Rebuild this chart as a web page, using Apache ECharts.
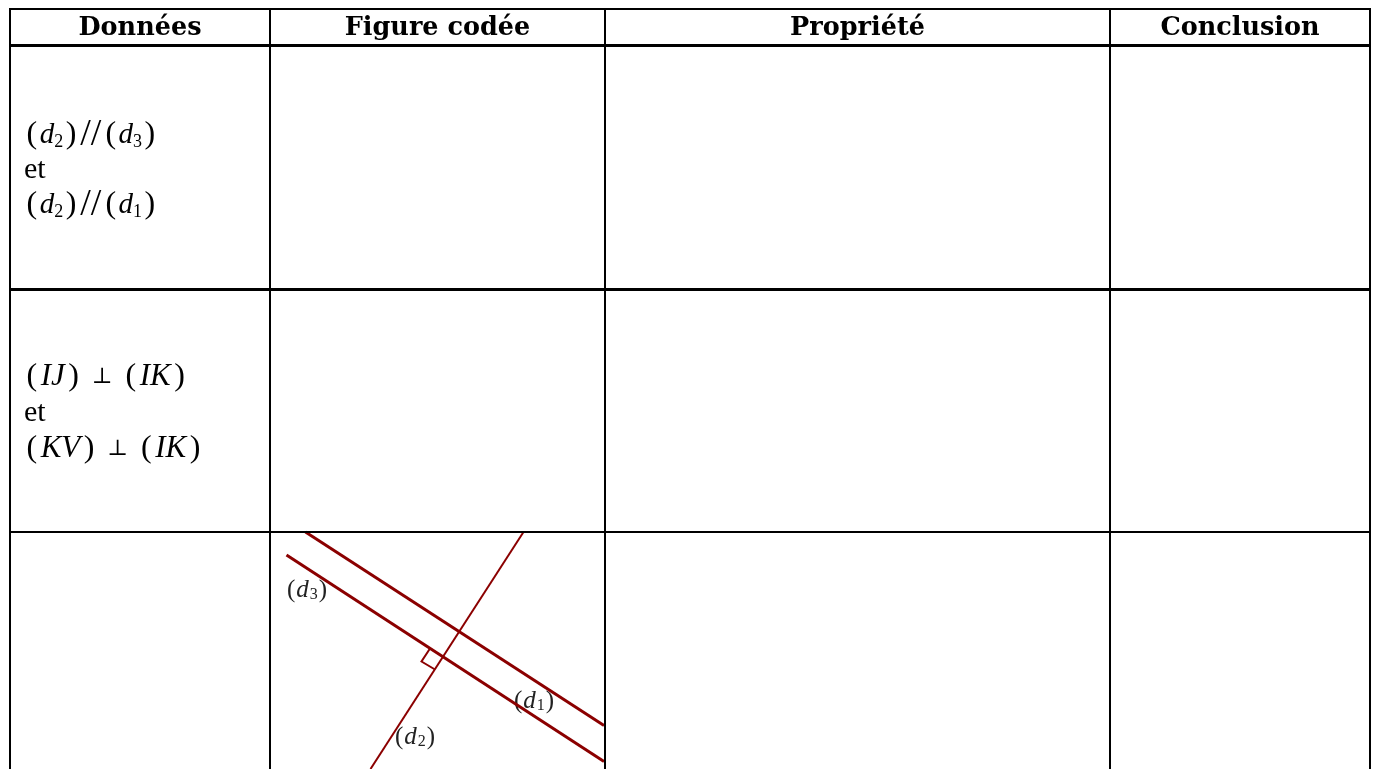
<!doctype html>
<html>

<head>
  <meta charset="utf-8">
  <title>index</title>
  <script type="text/javascript" src="https://cdn.jsdelivr.net/npm/echarts@6/dist/echarts.min.js"></script>
  <style>
    html, body { margin: 0; padding: 0; background: #fff; }
    #main { width: 1375px; height: 769px; }
  </style>
</head>

<body>
  <div id="main"></div>
  <script>
    // table structure, in page units
    var columnEdges = [10, 270, 605, 1110, 1370]
    var rowEdges = [9, 45.5, 289.5, 532, 769]
    var headers = ['Données', 'Figure codée', 'Propriété', 'Conclusion']

    // cell text, {i|} italic, {c|} capitals, {s|} subscript, {p|} perpendicular sign, {o|} parenthesis, {w|} slash
    var row1Text = ['{o|(}{i|d}{s|2}{o|)}{w|//}{o|(}{i|d}{s|3}{o|)}', '{t|et}', '{o|(}{i|d}{s|2}{o|)}{w|//}{o|(}{i|d}{s|1}{o|)}']
    var row2Text = ['{o|(}{c|IJ}{o|)}{p|⊥}{o|(}{c|IK}{o|)}', '{t|et}', '{o|(}{c|KV}{o|)}{p|⊥}{o|(}{c|IK}{o|)}']
    var row1TextY = [135, 170, 205]
    var row2TextY = [377, 413, 449]
    var textX = 24

    // coded figure
    var lineD1 = [[305.5, 532], [604, 725.5]]
    var lineD3 = [[286.5, 555], [604, 761.5]]
    var lineD2 = [[523.5, 532], [370.5, 769]]
    var rightAngle = [[430, 648.5], [421.5, 661.5], [435, 669.5]]
    var figureLabels = ['{o|(}{i|d}{s|3}{o|)}', '{o|(}{i|d}{s|1}{o|)}', '{o|(}{i|d}{s|2}{o|)}']
    var figureLabelPos = [[307, 590], [534, 701], [415, 737]]

    var rich = {
      t: { fontFamily: 'Liberation Serif', fontSize: 30, color: '#000' },
      o: { fontFamily: 'Liberation Serif', fontSize: 32, color: '#000', padding: [0, 2.5, 0, 2.5] },
      w: { fontFamily: 'Liberation Serif', fontSize: 38, color: '#000', padding: [0, 1.5, 0, 1.5] },
      i: { fontFamily: 'Liberation Serif', fontStyle: 'italic', fontSize: 29, color: '#000' },
      c: { fontFamily: 'Liberation Serif', fontStyle: 'italic', fontSize: 31, color: '#000', padding: [0, 1, 0, 1] },
      s: { fontFamily: 'Liberation Serif', fontSize: 18, color: '#000', verticalAlign: 'bottom', padding: [0, 0, 3, 0] },
      p: { fontFamily: 'DejaVu Serif', fontSize: 22, color: '#000', padding: [0, 10.5, 0, 10.5] }
    }
    var richSmall = {
      o: { fontFamily: 'Liberation Serif', fontSize: 25, color: '#222', padding: [0, 1, 0, 1] },
      i: { fontFamily: 'Liberation Serif', fontStyle: 'italic', fontSize: 25, color: '#222', padding: [0, 1, 0, 0] },
      s: { fontFamily: 'Liberation Serif', fontSize: 16, color: '#222', verticalAlign: 'bottom', padding: [8, 0, 0, 0] }
    }

    function rule(points, width, color) {
      return {
        type: 'line', data: points, symbol: 'none', silent: true, clip: true,
        lineStyle: { width: width, color: color || '#000', cap: 'butt', join: 'miter' }
      }
    }

    function textSeries(points, texts, label) {
      var style = Object.assign({ show: true, color: '#000' }, label)
      return {
        type: 'scatter', symbolSize: 0, silent: true,
        itemStyle: { opacity: 1 }, // scatter defaults to .8, that would grey the labels too
        data: points.map(function (p, i) {
          return { value: p, label: Object.assign({}, style, { formatter: texts[i] }) }
        }),
        label: style
      }
    }

    var series = []

    // figure goes first so the table rules stay on top of it
    series.push(rule(lineD1, 3, '#8b0000'))
    series.push(rule(lineD3, 3, '#8b0000'))
    series.push(rule(lineD2, 2, '#8b0000'))
    series.push(rule(rightAngle, 2, '#8b0000'))

    // horizontal rules, the header and first row ones are heavier
    rowEdges.forEach(function (y, i) {
      if (i == 4) return
      series.push(rule([[columnEdges[0] - 1, y], [columnEdges[4] + 1, y]], (i == 1 || i == 2) ? 3 : 2))
    })
    columnEdges.forEach(function (x) {
      series.push(rule([[x, rowEdges[0]], [x, rowEdges[4]]], 2))
    })

    // header labels centred on their columns
    var headerPos = headers.map(function (h, i) {
      return [(columnEdges[i] + columnEdges[i + 1]) / 2, 28]
    })
    series.push(textSeries(headerPos, headers, {
      position: 'inside', align: 'center', verticalAlign: 'middle',
      fontFamily: 'DejaVu Serif', fontWeight: 'bold', fontSize: 25.5
    }))

    var cellFont = { position: 'right', distance: 0, fontFamily: 'Liberation Serif', fontSize: 30, rich: rich }
    series.push(textSeries(row1TextY.map(function (y) { return [textX, y] }), row1Text, cellFont))
    series.push(textSeries(row2TextY.map(function (y) { return [textX, y] }), row2Text, cellFont))
    series.push(textSeries(figureLabelPos, figureLabels, {
      position: 'inside', align: 'center', verticalAlign: 'middle',
      fontFamily: 'Liberation Serif', fontSize: 25, color: '#222', rich: richSmall
    }))

    var chart = echarts.init(document.getElementById('main'), null, { renderer: 'canvas' })
    chart.setOption({
      animation: false,
      backgroundColor: '#fff',
      grid: { left: 0, right: 0, top: 0, bottom: 0 },
      xAxis: { type: 'value', min: 0, max: 1375, show: false },
      yAxis: { type: 'value', min: 0, max: 769, inverse: true, show: false },
      series: series
    })
  </script>
</body>

</html>
